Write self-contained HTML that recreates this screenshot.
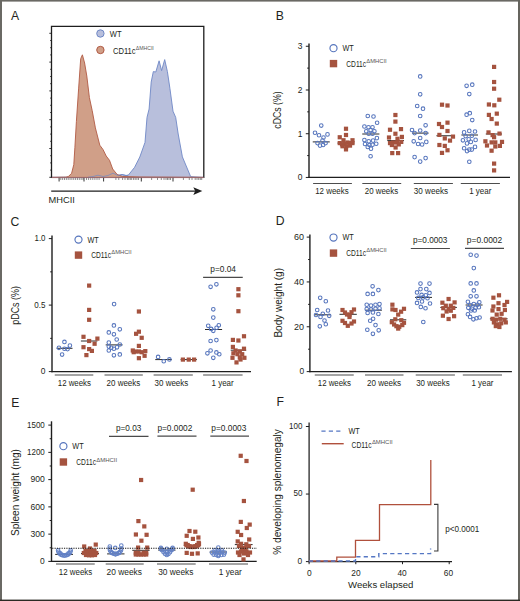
<!DOCTYPE html>
<html><head><meta charset="utf-8"><style>
html,body{margin:0;padding:0;background:#fff;width:520px;height:601px;overflow:hidden}
svg{display:block}
text{font-family:"Liberation Sans",sans-serif}
</style></head><body>
<svg width="520" height="601" viewBox="0 0 520 601">
<rect x="0" y="0" width="520" height="601" fill="#ffffff"/>
<rect x="0" y="0" width="520" height="1.6" fill="#6a6964"/>
<rect x="0" y="0" width="2" height="601" fill="#6a6964"/>
<rect x="518" y="0" width="2" height="601" fill="#65645e"/>
<rect x="0" y="599.6" width="520" height="1.4" fill="#2b2a24"/>
<text x="11.00" y="19.90" font-size="12.2" text-anchor="start" fill="#231f20" stroke="#231f20" stroke-width="0.0" >A</text>
<text x="275.70" y="20.00" font-size="12.2" text-anchor="start" fill="#231f20" stroke="#231f20" stroke-width="0.0" >B</text>
<text x="10.50" y="225.70" font-size="12.2" text-anchor="start" fill="#231f20" stroke="#231f20" stroke-width="0.0" >C</text>
<text x="275.80" y="225.40" font-size="12.2" text-anchor="start" fill="#231f20" stroke="#231f20" stroke-width="0.0" >D</text>
<text x="11.30" y="406.90" font-size="12.2" text-anchor="start" fill="#231f20" stroke="#231f20" stroke-width="0.0" >E</text>
<text x="276.50" y="406.40" font-size="12.2" text-anchor="start" fill="#231f20" stroke="#231f20" stroke-width="0.0" >F</text>
<line x1="309.00" y1="43.60" x2="309.00" y2="178.05" stroke="#1e1e1e" stroke-width="1.4" />
<line x1="308.40" y1="177.45" x2="510.00" y2="177.45" stroke="#1e1e1e" stroke-width="1.25" />
<line x1="305.80" y1="177.45" x2="309.00" y2="177.45" stroke="#1e1e1e" stroke-width="1.0" />
<line x1="305.80" y1="133.72" x2="309.00" y2="133.72" stroke="#1e1e1e" stroke-width="1.0" />
<line x1="305.80" y1="89.99" x2="309.00" y2="89.99" stroke="#1e1e1e" stroke-width="1.0" />
<line x1="305.80" y1="46.26" x2="309.00" y2="46.26" stroke="#1e1e1e" stroke-width="1.0" />
<line x1="307.20" y1="155.58" x2="309.00" y2="155.58" stroke="#1e1e1e" stroke-width="1.0" />
<line x1="307.20" y1="111.85" x2="309.00" y2="111.85" stroke="#1e1e1e" stroke-width="1.0" />
<line x1="307.20" y1="68.12" x2="309.00" y2="68.12" stroke="#1e1e1e" stroke-width="1.0" />
<text x="302.40" y="180.25" font-size="9.2" text-anchor="end" fill="#231f20" stroke="#231f20" stroke-width="0.0" textLength="4.70" lengthAdjust="spacingAndGlyphs" >0</text>
<text x="302.40" y="136.52" font-size="9.2" text-anchor="end" fill="#231f20" stroke="#231f20" stroke-width="0.0" textLength="4.70" lengthAdjust="spacingAndGlyphs" >1</text>
<text x="302.40" y="92.79" font-size="9.2" text-anchor="end" fill="#231f20" stroke="#231f20" stroke-width="0.0" textLength="4.70" lengthAdjust="spacingAndGlyphs" >2</text>
<text x="302.40" y="49.06" font-size="9.2" text-anchor="end" fill="#231f20" stroke="#231f20" stroke-width="0.0" textLength="4.70" lengthAdjust="spacingAndGlyphs" >3</text>
<text transform="translate(280.9,110) rotate(-90)" font-size="10.4" text-anchor="middle" stroke="#231f20" stroke-width="0" fill="#231f20" textLength="37.4" lengthAdjust="spacingAndGlyphs">cDCs (%)</text>
<circle cx="333.50" cy="48.20" r="3.55" fill="none" stroke="#5675bd" stroke-width="1.15"/>
<text x="342.50" y="51.00" font-size="9.0" text-anchor="start" fill="#231f20" stroke="#231f20" stroke-width="0.0" textLength="11.30" lengthAdjust="spacingAndGlyphs" >WT</text>
<rect x="329.80" y="59.90" width="7.4" height="7.4" fill="#a5533f"/>
<text x="346.30" y="66.60" font-size="9.0" text-anchor="start" fill="#231f20" stroke="#231f20" stroke-width="0.0" textLength="19.80" lengthAdjust="spacingAndGlyphs" >CD11c</text>
<text x="366.30" y="63.30" font-size="5.6" fill="#555" textLength="20.40" lengthAdjust="spacingAndGlyphs">&#916;MHCII</text>
<line x1="313.10" y1="183.45" x2="351.90" y2="183.45" stroke="#4d4d4d" stroke-width="1.1" />
<line x1="362.30" y1="183.45" x2="401.20" y2="183.45" stroke="#4d4d4d" stroke-width="1.1" />
<line x1="413.80" y1="183.45" x2="452.90" y2="183.45" stroke="#4d4d4d" stroke-width="1.1" />
<line x1="460.80" y1="183.45" x2="499.90" y2="183.45" stroke="#4d4d4d" stroke-width="1.1" />
<text x="315.20" y="193.75" font-size="9.2" text-anchor="start" fill="#231f20" stroke="#231f20" stroke-width="0.0" textLength="33.50" lengthAdjust="spacingAndGlyphs" >12 weeks</text>
<text x="364.75" y="193.75" font-size="9.2" text-anchor="start" fill="#231f20" stroke="#231f20" stroke-width="0.0" textLength="33.35" lengthAdjust="spacingAndGlyphs" >20 weeks</text>
<text x="413.80" y="193.75" font-size="9.2" text-anchor="start" fill="#231f20" stroke="#231f20" stroke-width="0.0" textLength="34.20" lengthAdjust="spacingAndGlyphs" >30 weeks</text>
<text x="469.20" y="193.75" font-size="9.2" text-anchor="start" fill="#231f20" stroke="#231f20" stroke-width="0.0" textLength="22.20" lengthAdjust="spacingAndGlyphs" >1 year</text>
<line x1="312.75" y1="141.90" x2="329.75" y2="141.90" stroke="#2a2a2a" stroke-width="1.0" />
<line x1="337.50" y1="143.10" x2="354.40" y2="143.10" stroke="#2a2a2a" stroke-width="1.0" />
<line x1="362.25" y1="134.00" x2="379.40" y2="134.00" stroke="#2a2a2a" stroke-width="1.0" />
<line x1="387.25" y1="140.60" x2="404.00" y2="140.60" stroke="#2a2a2a" stroke-width="1.0" />
<line x1="412.00" y1="133.10" x2="428.60" y2="133.10" stroke="#2a2a2a" stroke-width="1.0" />
<line x1="436.40" y1="135.75" x2="451.30" y2="135.75" stroke="#2a2a2a" stroke-width="1.0" />
<line x1="461.40" y1="135.00" x2="478.00" y2="135.00" stroke="#2a2a2a" stroke-width="1.0" />
<line x1="485.80" y1="134.00" x2="502.00" y2="134.00" stroke="#2a2a2a" stroke-width="1.0" />
<circle cx="321.25" cy="125.60" r="1.8" fill="none" stroke="#5675bd" stroke-width="1.05"/>
<circle cx="315.00" cy="132.75" r="1.8" fill="none" stroke="#5675bd" stroke-width="1.05"/>
<circle cx="319.00" cy="135.25" r="1.8" fill="none" stroke="#5675bd" stroke-width="1.05"/>
<circle cx="327.50" cy="134.40" r="1.8" fill="none" stroke="#5675bd" stroke-width="1.05"/>
<circle cx="323.50" cy="137.50" r="1.8" fill="none" stroke="#5675bd" stroke-width="1.05"/>
<circle cx="317.50" cy="143.10" r="1.8" fill="none" stroke="#5675bd" stroke-width="1.05"/>
<circle cx="320.00" cy="145.60" r="1.8" fill="none" stroke="#5675bd" stroke-width="1.05"/>
<circle cx="323.10" cy="145.00" r="1.8" fill="none" stroke="#5675bd" stroke-width="1.05"/>
<circle cx="325.60" cy="143.10" r="1.8" fill="none" stroke="#5675bd" stroke-width="1.05"/>
<circle cx="322.50" cy="140.60" r="1.8" fill="none" stroke="#5675bd" stroke-width="1.05"/>
<circle cx="367.75" cy="116.00" r="1.8" fill="none" stroke="#5675bd" stroke-width="1.05"/>
<circle cx="373.50" cy="116.50" r="1.8" fill="none" stroke="#5675bd" stroke-width="1.05"/>
<circle cx="377.10" cy="122.75" r="1.8" fill="none" stroke="#5675bd" stroke-width="1.05"/>
<circle cx="364.40" cy="126.50" r="1.8" fill="none" stroke="#5675bd" stroke-width="1.05"/>
<circle cx="368.50" cy="127.25" r="1.8" fill="none" stroke="#5675bd" stroke-width="1.05"/>
<circle cx="372.50" cy="127.25" r="1.8" fill="none" stroke="#5675bd" stroke-width="1.05"/>
<circle cx="366.25" cy="131.25" r="1.8" fill="none" stroke="#5675bd" stroke-width="1.05"/>
<circle cx="370.60" cy="130.00" r="1.8" fill="none" stroke="#5675bd" stroke-width="1.05"/>
<circle cx="374.40" cy="131.25" r="1.8" fill="none" stroke="#5675bd" stroke-width="1.05"/>
<circle cx="368.75" cy="133.75" r="1.8" fill="none" stroke="#5675bd" stroke-width="1.05"/>
<circle cx="372.50" cy="133.75" r="1.8" fill="none" stroke="#5675bd" stroke-width="1.05"/>
<circle cx="376.90" cy="138.10" r="1.8" fill="none" stroke="#5675bd" stroke-width="1.05"/>
<circle cx="364.40" cy="140.00" r="1.8" fill="none" stroke="#5675bd" stroke-width="1.05"/>
<circle cx="368.75" cy="141.25" r="1.8" fill="none" stroke="#5675bd" stroke-width="1.05"/>
<circle cx="373.10" cy="140.60" r="1.8" fill="none" stroke="#5675bd" stroke-width="1.05"/>
<circle cx="365.00" cy="144.00" r="1.8" fill="none" stroke="#5675bd" stroke-width="1.05"/>
<circle cx="369.40" cy="145.00" r="1.8" fill="none" stroke="#5675bd" stroke-width="1.05"/>
<circle cx="376.25" cy="143.75" r="1.8" fill="none" stroke="#5675bd" stroke-width="1.05"/>
<circle cx="372.50" cy="144.75" r="1.8" fill="none" stroke="#5675bd" stroke-width="1.05"/>
<circle cx="367.75" cy="146.90" r="1.8" fill="none" stroke="#5675bd" stroke-width="1.05"/>
<circle cx="371.00" cy="148.75" r="1.8" fill="none" stroke="#5675bd" stroke-width="1.05"/>
<circle cx="370.60" cy="156.25" r="1.8" fill="none" stroke="#5675bd" stroke-width="1.05"/>
<circle cx="420.20" cy="76.40" r="1.8" fill="none" stroke="#5675bd" stroke-width="1.05"/>
<circle cx="420.20" cy="94.35" r="1.8" fill="none" stroke="#5675bd" stroke-width="1.05"/>
<circle cx="417.20" cy="106.00" r="1.8" fill="none" stroke="#5675bd" stroke-width="1.05"/>
<circle cx="423.00" cy="108.70" r="1.8" fill="none" stroke="#5675bd" stroke-width="1.05"/>
<circle cx="420.20" cy="116.00" r="1.8" fill="none" stroke="#5675bd" stroke-width="1.05"/>
<circle cx="425.60" cy="125.30" r="1.8" fill="none" stroke="#5675bd" stroke-width="1.05"/>
<circle cx="412.00" cy="130.00" r="1.8" fill="none" stroke="#5675bd" stroke-width="1.05"/>
<circle cx="420.20" cy="130.50" r="1.8" fill="none" stroke="#5675bd" stroke-width="1.05"/>
<circle cx="425.60" cy="133.10" r="1.8" fill="none" stroke="#5675bd" stroke-width="1.05"/>
<circle cx="414.60" cy="133.10" r="1.8" fill="none" stroke="#5675bd" stroke-width="1.05"/>
<circle cx="420.20" cy="138.00" r="1.8" fill="none" stroke="#5675bd" stroke-width="1.05"/>
<circle cx="413.70" cy="141.30" r="1.8" fill="none" stroke="#5675bd" stroke-width="1.05"/>
<circle cx="418.10" cy="144.00" r="1.8" fill="none" stroke="#5675bd" stroke-width="1.05"/>
<circle cx="422.10" cy="144.50" r="1.8" fill="none" stroke="#5675bd" stroke-width="1.05"/>
<circle cx="426.30" cy="141.90" r="1.8" fill="none" stroke="#5675bd" stroke-width="1.05"/>
<circle cx="414.60" cy="157.10" r="1.8" fill="none" stroke="#5675bd" stroke-width="1.05"/>
<circle cx="420.20" cy="161.60" r="1.8" fill="none" stroke="#5675bd" stroke-width="1.05"/>
<circle cx="425.60" cy="158.10" r="1.8" fill="none" stroke="#5675bd" stroke-width="1.05"/>
<circle cx="466.60" cy="85.80" r="1.8" fill="none" stroke="#5675bd" stroke-width="1.05"/>
<circle cx="472.25" cy="84.70" r="1.8" fill="none" stroke="#5675bd" stroke-width="1.05"/>
<circle cx="469.30" cy="94.10" r="1.8" fill="none" stroke="#5675bd" stroke-width="1.05"/>
<circle cx="466.60" cy="114.70" r="1.8" fill="none" stroke="#5675bd" stroke-width="1.05"/>
<circle cx="469.80" cy="113.20" r="1.8" fill="none" stroke="#5675bd" stroke-width="1.05"/>
<circle cx="472.25" cy="120.10" r="1.8" fill="none" stroke="#5675bd" stroke-width="1.05"/>
<circle cx="464.10" cy="132.40" r="1.8" fill="none" stroke="#5675bd" stroke-width="1.05"/>
<circle cx="469.30" cy="130.90" r="1.8" fill="none" stroke="#5675bd" stroke-width="1.05"/>
<circle cx="475.00" cy="131.50" r="1.8" fill="none" stroke="#5675bd" stroke-width="1.05"/>
<circle cx="465.60" cy="136.10" r="1.8" fill="none" stroke="#5675bd" stroke-width="1.05"/>
<circle cx="471.80" cy="135.70" r="1.8" fill="none" stroke="#5675bd" stroke-width="1.05"/>
<circle cx="462.90" cy="140.30" r="1.8" fill="none" stroke="#5675bd" stroke-width="1.05"/>
<circle cx="468.70" cy="139.20" r="1.8" fill="none" stroke="#5675bd" stroke-width="1.05"/>
<circle cx="475.60" cy="139.90" r="1.8" fill="none" stroke="#5675bd" stroke-width="1.05"/>
<circle cx="467.00" cy="143.40" r="1.8" fill="none" stroke="#5675bd" stroke-width="1.05"/>
<circle cx="470.80" cy="141.90" r="1.8" fill="none" stroke="#5675bd" stroke-width="1.05"/>
<circle cx="464.10" cy="148.20" r="1.8" fill="none" stroke="#5675bd" stroke-width="1.05"/>
<circle cx="469.30" cy="149.60" r="1.8" fill="none" stroke="#5675bd" stroke-width="1.05"/>
<circle cx="475.00" cy="146.90" r="1.8" fill="none" stroke="#5675bd" stroke-width="1.05"/>
<circle cx="467.00" cy="151.10" r="1.8" fill="none" stroke="#5675bd" stroke-width="1.05"/>
<circle cx="471.80" cy="149.60" r="1.8" fill="none" stroke="#5675bd" stroke-width="1.05"/>
<circle cx="469.30" cy="161.70" r="1.8" fill="none" stroke="#5675bd" stroke-width="1.05"/>
<rect x="343.90" y="126.65" width="4.2" height="4.2" fill="#a5533f"/>
<rect x="343.90" y="132.90" width="4.2" height="4.2" fill="#a5533f"/>
<rect x="337.65" y="135.15" width="4.2" height="4.2" fill="#a5533f"/>
<rect x="341.40" y="138.15" width="4.2" height="4.2" fill="#a5533f"/>
<rect x="350.40" y="138.15" width="4.2" height="4.2" fill="#a5533f"/>
<rect x="337.65" y="141.00" width="4.2" height="4.2" fill="#a5533f"/>
<rect x="339.90" y="142.30" width="4.2" height="4.2" fill="#a5533f"/>
<rect x="342.40" y="141.70" width="4.2" height="4.2" fill="#a5533f"/>
<rect x="345.40" y="140.40" width="4.2" height="4.2" fill="#a5533f"/>
<rect x="347.90" y="141.00" width="4.2" height="4.2" fill="#a5533f"/>
<rect x="350.40" y="141.00" width="4.2" height="4.2" fill="#a5533f"/>
<rect x="340.40" y="144.15" width="4.2" height="4.2" fill="#a5533f"/>
<rect x="344.15" y="144.15" width="4.2" height="4.2" fill="#a5533f"/>
<rect x="347.90" y="143.50" width="4.2" height="4.2" fill="#a5533f"/>
<rect x="343.90" y="147.30" width="4.2" height="4.2" fill="#a5533f"/>
<rect x="393.30" y="112.90" width="4.2" height="4.2" fill="#a5533f"/>
<rect x="393.30" y="119.50" width="4.2" height="4.2" fill="#a5533f"/>
<rect x="387.90" y="127.65" width="4.2" height="4.2" fill="#a5533f"/>
<rect x="398.90" y="127.00" width="4.2" height="4.2" fill="#a5533f"/>
<rect x="393.30" y="131.65" width="4.2" height="4.2" fill="#a5533f"/>
<rect x="386.90" y="135.40" width="4.2" height="4.2" fill="#a5533f"/>
<rect x="395.40" y="136.65" width="4.2" height="4.2" fill="#a5533f"/>
<rect x="399.80" y="134.80" width="4.2" height="4.2" fill="#a5533f"/>
<rect x="387.90" y="141.00" width="4.2" height="4.2" fill="#a5533f"/>
<rect x="391.00" y="140.40" width="4.2" height="4.2" fill="#a5533f"/>
<rect x="394.80" y="140.40" width="4.2" height="4.2" fill="#a5533f"/>
<rect x="399.15" y="139.80" width="4.2" height="4.2" fill="#a5533f"/>
<rect x="389.80" y="142.90" width="4.2" height="4.2" fill="#a5533f"/>
<rect x="396.65" y="142.30" width="4.2" height="4.2" fill="#a5533f"/>
<rect x="393.50" y="145.40" width="4.2" height="4.2" fill="#a5533f"/>
<rect x="390.15" y="151.00" width="4.2" height="4.2" fill="#a5533f"/>
<rect x="396.00" y="151.00" width="4.2" height="4.2" fill="#a5533f"/>
<rect x="439.90" y="102.60" width="4.2" height="4.2" fill="#a5533f"/>
<rect x="445.40" y="103.40" width="4.2" height="4.2" fill="#a5533f"/>
<rect x="436.90" y="121.90" width="4.2" height="4.2" fill="#a5533f"/>
<rect x="445.40" y="120.55" width="4.2" height="4.2" fill="#a5533f"/>
<rect x="439.90" y="124.90" width="4.2" height="4.2" fill="#a5533f"/>
<rect x="445.40" y="128.90" width="4.2" height="4.2" fill="#a5533f"/>
<rect x="437.30" y="132.80" width="4.2" height="4.2" fill="#a5533f"/>
<rect x="442.70" y="136.30" width="4.2" height="4.2" fill="#a5533f"/>
<rect x="450.90" y="134.50" width="4.2" height="4.2" fill="#a5533f"/>
<rect x="447.90" y="138.50" width="4.2" height="4.2" fill="#a5533f"/>
<rect x="437.30" y="142.90" width="4.2" height="4.2" fill="#a5533f"/>
<rect x="442.70" y="143.80" width="4.2" height="4.2" fill="#a5533f"/>
<rect x="445.40" y="148.15" width="4.2" height="4.2" fill="#a5533f"/>
<rect x="439.90" y="150.80" width="4.2" height="4.2" fill="#a5533f"/>
<rect x="492.00" y="64.80" width="4.2" height="4.2" fill="#a5533f"/>
<rect x="492.00" y="79.90" width="4.2" height="4.2" fill="#a5533f"/>
<rect x="492.00" y="86.60" width="4.2" height="4.2" fill="#a5533f"/>
<rect x="497.20" y="97.60" width="4.2" height="4.2" fill="#a5533f"/>
<rect x="486.80" y="102.40" width="4.2" height="4.2" fill="#a5533f"/>
<rect x="492.20" y="103.20" width="4.2" height="4.2" fill="#a5533f"/>
<rect x="486.80" y="112.80" width="4.2" height="4.2" fill="#a5533f"/>
<rect x="494.70" y="111.55" width="4.2" height="4.2" fill="#a5533f"/>
<rect x="489.50" y="116.90" width="4.2" height="4.2" fill="#a5533f"/>
<rect x="494.70" y="121.50" width="4.2" height="4.2" fill="#a5533f"/>
<rect x="486.40" y="130.30" width="4.2" height="4.2" fill="#a5533f"/>
<rect x="490.50" y="133.00" width="4.2" height="4.2" fill="#a5533f"/>
<rect x="497.40" y="131.50" width="4.2" height="4.2" fill="#a5533f"/>
<rect x="483.30" y="139.20" width="4.2" height="4.2" fill="#a5533f"/>
<rect x="489.50" y="140.30" width="4.2" height="4.2" fill="#a5533f"/>
<rect x="493.20" y="140.30" width="4.2" height="4.2" fill="#a5533f"/>
<rect x="499.90" y="139.80" width="4.2" height="4.2" fill="#a5533f"/>
<rect x="484.90" y="143.40" width="4.2" height="4.2" fill="#a5533f"/>
<rect x="493.20" y="144.40" width="4.2" height="4.2" fill="#a5533f"/>
<rect x="497.80" y="143.80" width="4.2" height="4.2" fill="#a5533f"/>
<rect x="489.50" y="148.60" width="4.2" height="4.2" fill="#a5533f"/>
<rect x="492.00" y="135.10" width="4.2" height="4.2" fill="#a5533f"/>
<rect x="492.00" y="161.50" width="4.2" height="4.2" fill="#a5533f"/>
<rect x="492.00" y="168.30" width="4.2" height="4.2" fill="#a5533f"/>
<line x1="52.00" y1="235.60" x2="52.00" y2="372.20" stroke="#1e1e1e" stroke-width="1.4" />
<line x1="51.40" y1="371.60" x2="251.00" y2="371.60" stroke="#1e1e1e" stroke-width="1.25" />
<line x1="48.80" y1="371.60" x2="52.00" y2="371.60" stroke="#1e1e1e" stroke-width="1.0" />
<line x1="48.80" y1="305.10" x2="52.00" y2="305.10" stroke="#1e1e1e" stroke-width="1.0" />
<line x1="48.80" y1="238.60" x2="52.00" y2="238.60" stroke="#1e1e1e" stroke-width="1.0" />
<line x1="50.20" y1="338.35" x2="52.00" y2="338.35" stroke="#1e1e1e" stroke-width="1.0" />
<line x1="50.20" y1="271.85" x2="52.00" y2="271.85" stroke="#1e1e1e" stroke-width="1.0" />
<text x="45.50" y="241.40" font-size="9.2" text-anchor="end" fill="#231f20" stroke="#231f20" stroke-width="0.0" textLength="11.00" lengthAdjust="spacingAndGlyphs" >1.0</text>
<text x="45.50" y="307.90" font-size="9.2" text-anchor="end" fill="#231f20" stroke="#231f20" stroke-width="0.0" textLength="11.20" lengthAdjust="spacingAndGlyphs" >0.5</text>
<text x="45.50" y="374.40" font-size="9.2" text-anchor="end" fill="#231f20" stroke="#231f20" stroke-width="0.0" textLength="4.70" lengthAdjust="spacingAndGlyphs" >0</text>
<text transform="translate(18.8,305.4) rotate(-90)" font-size="10.4" text-anchor="middle" stroke="#231f20" stroke-width="0" fill="#231f20" textLength="38.7" lengthAdjust="spacingAndGlyphs">pDCs (%)</text>
<circle cx="78.50" cy="239.60" r="3.55" fill="none" stroke="#5675bd" stroke-width="1.15"/>
<text x="87.50" y="242.50" font-size="9.0" text-anchor="start" fill="#231f20" stroke="#231f20" stroke-width="0.0" textLength="11.30" lengthAdjust="spacingAndGlyphs" >WT</text>
<rect x="74.80" y="251.40" width="7.4" height="7.4" fill="#a5533f"/>
<text x="91.25" y="257.75" font-size="9.0" text-anchor="start" fill="#231f20" stroke="#231f20" stroke-width="0.0" textLength="19.80" lengthAdjust="spacingAndGlyphs" >CD11c</text>
<text x="111.25" y="254.45" font-size="5.6" fill="#555" textLength="20.35" lengthAdjust="spacingAndGlyphs">&#916;MHCII</text>
<line x1="54.75" y1="375.00" x2="93.30" y2="375.00" stroke="#4d4d4d" stroke-width="1.1" />
<line x1="104.50" y1="375.00" x2="142.80" y2="375.00" stroke="#4d4d4d" stroke-width="1.1" />
<line x1="153.60" y1="375.00" x2="192.80" y2="375.00" stroke="#4d4d4d" stroke-width="1.1" />
<line x1="203.10" y1="375.00" x2="242.60" y2="375.00" stroke="#4d4d4d" stroke-width="1.1" />
<text x="57.75" y="385.60" font-size="9.2" text-anchor="start" fill="#231f20" stroke="#231f20" stroke-width="0.0" textLength="33.25" lengthAdjust="spacingAndGlyphs" >12 weeks</text>
<text x="106.60" y="385.60" font-size="9.2" text-anchor="start" fill="#231f20" stroke="#231f20" stroke-width="0.0" textLength="33.70" lengthAdjust="spacingAndGlyphs" >20 weeks</text>
<text x="154.60" y="385.60" font-size="9.2" text-anchor="start" fill="#231f20" stroke="#231f20" stroke-width="0.0" textLength="33.70" lengthAdjust="spacingAndGlyphs" >30 weeks</text>
<text x="211.50" y="385.60" font-size="9.2" text-anchor="start" fill="#231f20" stroke="#231f20" stroke-width="0.0" textLength="22.20" lengthAdjust="spacingAndGlyphs" >1 year</text>
<text x="210.25" y="271.90" font-size="8.8" text-anchor="start" fill="#231f20" stroke="#231f20" stroke-width="0.0" textLength="25.75" lengthAdjust="spacingAndGlyphs" >p=0.04</text>
<line x1="203.10" y1="277.40" x2="242.75" y2="277.40" stroke="#4a4a4a" stroke-width="1.2" />
<line x1="56.60" y1="348.30" x2="72.50" y2="348.30" stroke="#2a2a2a" stroke-width="1.0" />
<line x1="80.90" y1="341.00" x2="97.40" y2="341.00" stroke="#2a2a2a" stroke-width="1.0" />
<line x1="105.70" y1="344.90" x2="122.60" y2="344.90" stroke="#2a2a2a" stroke-width="1.0" />
<line x1="131.10" y1="351.50" x2="146.70" y2="351.50" stroke="#2a2a2a" stroke-width="1.0" />
<line x1="155.25" y1="359.60" x2="171.90" y2="359.60" stroke="#2a2a2a" stroke-width="1.0" />
<line x1="180.60" y1="359.60" x2="196.90" y2="359.60" stroke="#2a2a2a" stroke-width="1.0" />
<line x1="205.00" y1="329.50" x2="222.10" y2="329.50" stroke="#2a2a2a" stroke-width="1.0" />
<line x1="230.70" y1="350.20" x2="246.20" y2="350.20" stroke="#2a2a2a" stroke-width="1.0" />
<circle cx="64.45" cy="341.90" r="1.8" fill="none" stroke="#5675bd" stroke-width="1.05"/>
<circle cx="58.95" cy="347.80" r="1.8" fill="none" stroke="#5675bd" stroke-width="1.05"/>
<circle cx="69.90" cy="345.60" r="1.8" fill="none" stroke="#5675bd" stroke-width="1.05"/>
<circle cx="64.45" cy="348.70" r="1.8" fill="none" stroke="#5675bd" stroke-width="1.05"/>
<circle cx="67.55" cy="349.10" r="1.8" fill="none" stroke="#5675bd" stroke-width="1.05"/>
<circle cx="62.10" cy="354.55" r="1.8" fill="none" stroke="#5675bd" stroke-width="1.05"/>
<circle cx="114.10" cy="304.10" r="1.8" fill="none" stroke="#5675bd" stroke-width="1.05"/>
<circle cx="113.90" cy="325.40" r="1.8" fill="none" stroke="#5675bd" stroke-width="1.05"/>
<circle cx="119.80" cy="329.30" r="1.8" fill="none" stroke="#5675bd" stroke-width="1.05"/>
<circle cx="108.80" cy="332.40" r="1.8" fill="none" stroke="#5675bd" stroke-width="1.05"/>
<circle cx="113.90" cy="334.30" r="1.8" fill="none" stroke="#5675bd" stroke-width="1.05"/>
<circle cx="116.70" cy="339.50" r="1.8" fill="none" stroke="#5675bd" stroke-width="1.05"/>
<circle cx="108.80" cy="342.60" r="1.8" fill="none" stroke="#5675bd" stroke-width="1.05"/>
<circle cx="119.80" cy="344.50" r="1.8" fill="none" stroke="#5675bd" stroke-width="1.05"/>
<circle cx="108.80" cy="346.60" r="1.8" fill="none" stroke="#5675bd" stroke-width="1.05"/>
<circle cx="111.30" cy="347.70" r="1.8" fill="none" stroke="#5675bd" stroke-width="1.05"/>
<circle cx="113.90" cy="348.70" r="1.8" fill="none" stroke="#5675bd" stroke-width="1.05"/>
<circle cx="117.00" cy="347.30" r="1.8" fill="none" stroke="#5675bd" stroke-width="1.05"/>
<circle cx="108.80" cy="350.50" r="1.8" fill="none" stroke="#5675bd" stroke-width="1.05"/>
<circle cx="113.90" cy="355.30" r="1.8" fill="none" stroke="#5675bd" stroke-width="1.05"/>
<circle cx="119.80" cy="354.40" r="1.8" fill="none" stroke="#5675bd" stroke-width="1.05"/>
<circle cx="158.10" cy="356.90" r="1.8" fill="none" stroke="#5675bd" stroke-width="1.05"/>
<circle cx="163.75" cy="361.25" r="1.8" fill="none" stroke="#5675bd" stroke-width="1.05"/>
<circle cx="169.40" cy="359.40" r="1.8" fill="none" stroke="#5675bd" stroke-width="1.05"/>
<circle cx="210.60" cy="286.80" r="1.8" fill="none" stroke="#5675bd" stroke-width="1.05"/>
<circle cx="216.40" cy="284.30" r="1.8" fill="none" stroke="#5675bd" stroke-width="1.05"/>
<circle cx="213.30" cy="309.30" r="1.8" fill="none" stroke="#5675bd" stroke-width="1.05"/>
<circle cx="213.30" cy="317.60" r="1.8" fill="none" stroke="#5675bd" stroke-width="1.05"/>
<circle cx="208.20" cy="325.80" r="1.8" fill="none" stroke="#5675bd" stroke-width="1.05"/>
<circle cx="218.80" cy="325.30" r="1.8" fill="none" stroke="#5675bd" stroke-width="1.05"/>
<circle cx="211.10" cy="328.90" r="1.8" fill="none" stroke="#5675bd" stroke-width="1.05"/>
<circle cx="216.60" cy="327.70" r="1.8" fill="none" stroke="#5675bd" stroke-width="1.05"/>
<circle cx="213.30" cy="330.80" r="1.8" fill="none" stroke="#5675bd" stroke-width="1.05"/>
<circle cx="210.60" cy="341.00" r="1.8" fill="none" stroke="#5675bd" stroke-width="1.05"/>
<circle cx="216.40" cy="340.10" r="1.8" fill="none" stroke="#5675bd" stroke-width="1.05"/>
<circle cx="210.60" cy="350.50" r="1.8" fill="none" stroke="#5675bd" stroke-width="1.05"/>
<circle cx="207.40" cy="353.30" r="1.8" fill="none" stroke="#5675bd" stroke-width="1.05"/>
<circle cx="216.40" cy="352.40" r="1.8" fill="none" stroke="#5675bd" stroke-width="1.05"/>
<circle cx="219.30" cy="354.20" r="1.8" fill="none" stroke="#5675bd" stroke-width="1.05"/>
<circle cx="213.30" cy="357.80" r="1.8" fill="none" stroke="#5675bd" stroke-width="1.05"/>
<rect x="87.05" y="283.50" width="4.2" height="4.2" fill="#a5533f"/>
<rect x="87.05" y="307.80" width="4.2" height="4.2" fill="#a5533f"/>
<rect x="87.05" y="317.70" width="4.2" height="4.2" fill="#a5533f"/>
<rect x="81.40" y="334.70" width="4.2" height="4.2" fill="#a5533f"/>
<rect x="95.30" y="336.50" width="4.2" height="4.2" fill="#a5533f"/>
<rect x="87.05" y="338.90" width="4.2" height="4.2" fill="#a5533f"/>
<rect x="92.50" y="341.65" width="4.2" height="4.2" fill="#a5533f"/>
<rect x="81.40" y="345.10" width="4.2" height="4.2" fill="#a5533f"/>
<rect x="87.05" y="347.00" width="4.2" height="4.2" fill="#a5533f"/>
<rect x="89.80" y="348.80" width="4.2" height="4.2" fill="#a5533f"/>
<rect x="84.30" y="353.00" width="4.2" height="4.2" fill="#a5533f"/>
<rect x="136.80" y="309.40" width="4.2" height="4.2" fill="#a5533f"/>
<rect x="136.80" y="329.60" width="4.2" height="4.2" fill="#a5533f"/>
<rect x="134.00" y="331.70" width="4.2" height="4.2" fill="#a5533f"/>
<rect x="139.60" y="335.70" width="4.2" height="4.2" fill="#a5533f"/>
<rect x="136.80" y="343.80" width="4.2" height="4.2" fill="#a5533f"/>
<rect x="130.70" y="348.40" width="4.2" height="4.2" fill="#a5533f"/>
<rect x="133.30" y="349.40" width="4.2" height="4.2" fill="#a5533f"/>
<rect x="136.80" y="349.40" width="4.2" height="4.2" fill="#a5533f"/>
<rect x="139.60" y="350.10" width="4.2" height="4.2" fill="#a5533f"/>
<rect x="143.20" y="349.00" width="4.2" height="4.2" fill="#a5533f"/>
<rect x="142.50" y="353.70" width="4.2" height="4.2" fill="#a5533f"/>
<rect x="136.80" y="356.10" width="4.2" height="4.2" fill="#a5533f"/>
<rect x="131.60" y="350.10" width="4.2" height="4.2" fill="#a5533f"/>
<rect x="180.80" y="357.50" width="4.2" height="4.2" fill="#a5533f"/>
<rect x="186.65" y="357.50" width="4.2" height="4.2" fill="#a5533f"/>
<rect x="192.00" y="357.50" width="4.2" height="4.2" fill="#a5533f"/>
<rect x="236.30" y="287.10" width="4.2" height="4.2" fill="#a5533f"/>
<rect x="236.30" y="293.20" width="4.2" height="4.2" fill="#a5533f"/>
<rect x="236.30" y="309.10" width="4.2" height="4.2" fill="#a5533f"/>
<rect x="241.90" y="334.15" width="4.2" height="4.2" fill="#a5533f"/>
<rect x="230.80" y="337.80" width="4.2" height="4.2" fill="#a5533f"/>
<rect x="236.30" y="338.40" width="4.2" height="4.2" fill="#a5533f"/>
<rect x="230.80" y="344.80" width="4.2" height="4.2" fill="#a5533f"/>
<rect x="241.90" y="346.60" width="4.2" height="4.2" fill="#a5533f"/>
<rect x="233.50" y="348.40" width="4.2" height="4.2" fill="#a5533f"/>
<rect x="237.70" y="349.30" width="4.2" height="4.2" fill="#a5533f"/>
<rect x="231.30" y="351.20" width="4.2" height="4.2" fill="#a5533f"/>
<rect x="235.40" y="352.10" width="4.2" height="4.2" fill="#a5533f"/>
<rect x="240.10" y="352.10" width="4.2" height="4.2" fill="#a5533f"/>
<rect x="230.40" y="355.70" width="4.2" height="4.2" fill="#a5533f"/>
<rect x="237.70" y="355.40" width="4.2" height="4.2" fill="#a5533f"/>
<rect x="242.30" y="355.70" width="4.2" height="4.2" fill="#a5533f"/>
<rect x="234.40" y="360.30" width="4.2" height="4.2" fill="#a5533f"/>
<rect x="238.40" y="357.40" width="4.2" height="4.2" fill="#a5533f"/>
<line x1="309.90" y1="234.40" x2="309.90" y2="372.20" stroke="#1e1e1e" stroke-width="1.4" />
<line x1="309.30" y1="371.60" x2="511.90" y2="371.60" stroke="#1e1e1e" stroke-width="1.25" />
<line x1="306.70" y1="371.60" x2="309.90" y2="371.60" stroke="#1e1e1e" stroke-width="1.0" />
<line x1="306.70" y1="326.77" x2="309.90" y2="326.77" stroke="#1e1e1e" stroke-width="1.0" />
<line x1="306.70" y1="281.94" x2="309.90" y2="281.94" stroke="#1e1e1e" stroke-width="1.0" />
<line x1="306.70" y1="237.11" x2="309.90" y2="237.11" stroke="#1e1e1e" stroke-width="1.0" />
<line x1="308.10" y1="349.19" x2="309.90" y2="349.19" stroke="#1e1e1e" stroke-width="1.0" />
<line x1="308.10" y1="304.36" x2="309.90" y2="304.36" stroke="#1e1e1e" stroke-width="1.0" />
<line x1="308.10" y1="259.53" x2="309.90" y2="259.53" stroke="#1e1e1e" stroke-width="1.0" />
<text x="304.10" y="374.40" font-size="9.2" text-anchor="end" fill="#231f20" stroke="#231f20" stroke-width="0.0" textLength="4.70" lengthAdjust="spacingAndGlyphs" >0</text>
<text x="304.10" y="329.57" font-size="9.2" text-anchor="end" fill="#231f20" stroke="#231f20" stroke-width="0.0" textLength="10.00" lengthAdjust="spacingAndGlyphs" >20</text>
<text x="304.10" y="284.74" font-size="9.2" text-anchor="end" fill="#231f20" stroke="#231f20" stroke-width="0.0" textLength="10.00" lengthAdjust="spacingAndGlyphs" >40</text>
<text x="304.10" y="239.91" font-size="9.2" text-anchor="end" fill="#231f20" stroke="#231f20" stroke-width="0.0" textLength="10.00" lengthAdjust="spacingAndGlyphs" >60</text>
<text transform="translate(281.6,302.8) rotate(-90)" font-size="10.4" text-anchor="middle" stroke="#231f20" stroke-width="0" fill="#231f20" textLength="69.6" lengthAdjust="spacingAndGlyphs">Body weight (g)</text>
<circle cx="333.50" cy="237.50" r="3.55" fill="none" stroke="#5675bd" stroke-width="1.15"/>
<text x="342.50" y="240.25" font-size="9.0" text-anchor="start" fill="#231f20" stroke="#231f20" stroke-width="0.0" textLength="11.30" lengthAdjust="spacingAndGlyphs" >WT</text>
<rect x="329.80" y="249.40" width="7.4" height="7.4" fill="#a5533f"/>
<text x="346.25" y="255.60" font-size="9.0" text-anchor="start" fill="#231f20" stroke="#231f20" stroke-width="0.0" textLength="19.80" lengthAdjust="spacingAndGlyphs" >CD11c</text>
<text x="366.25" y="252.30" font-size="5.6" fill="#555" textLength="20.45" lengthAdjust="spacingAndGlyphs">&#916;MHCII</text>
<line x1="314.75" y1="375.00" x2="353.75" y2="375.00" stroke="#4d4d4d" stroke-width="1.1" />
<line x1="365.00" y1="375.00" x2="403.50" y2="375.00" stroke="#4d4d4d" stroke-width="1.1" />
<line x1="415.70" y1="375.00" x2="454.90" y2="375.00" stroke="#4d4d4d" stroke-width="1.1" />
<line x1="462.80" y1="375.00" x2="502.00" y2="375.00" stroke="#4d4d4d" stroke-width="1.1" />
<text x="317.75" y="385.60" font-size="9.2" text-anchor="start" fill="#231f20" stroke="#231f20" stroke-width="0.0" textLength="33.25" lengthAdjust="spacingAndGlyphs" >12 weeks</text>
<text x="367.00" y="385.60" font-size="9.2" text-anchor="start" fill="#231f20" stroke="#231f20" stroke-width="0.0" textLength="34.00" lengthAdjust="spacingAndGlyphs" >20 weeks</text>
<text x="416.20" y="385.60" font-size="9.2" text-anchor="start" fill="#231f20" stroke="#231f20" stroke-width="0.0" textLength="33.40" lengthAdjust="spacingAndGlyphs" >30 weeks</text>
<text x="471.50" y="385.60" font-size="9.2" text-anchor="start" fill="#231f20" stroke="#231f20" stroke-width="0.0" textLength="22.00" lengthAdjust="spacingAndGlyphs" >1 year</text>
<text x="413.00" y="242.90" font-size="8.8" text-anchor="start" fill="#231f20" stroke="#231f20" stroke-width="0.0" textLength="34.40" lengthAdjust="spacingAndGlyphs" >p=0.0003</text>
<line x1="410.80" y1="248.50" x2="449.90" y2="248.50" stroke="#4a4a4a" stroke-width="1.2" />
<text x="466.80" y="242.90" font-size="8.8" text-anchor="start" fill="#231f20" stroke="#231f20" stroke-width="0.0" textLength="35.40" lengthAdjust="spacingAndGlyphs" >p=0.0002</text>
<line x1="465.00" y1="248.30" x2="504.00" y2="248.30" stroke="#4a4a4a" stroke-width="1.2" />
<line x1="314.50" y1="314.80" x2="331.00" y2="314.80" stroke="#2a2a2a" stroke-width="1.0" />
<line x1="339.50" y1="314.30" x2="356.80" y2="314.30" stroke="#2a2a2a" stroke-width="1.0" />
<line x1="365.20" y1="310.20" x2="381.90" y2="310.20" stroke="#2a2a2a" stroke-width="1.0" />
<line x1="390.00" y1="319.80" x2="406.30" y2="319.80" stroke="#2a2a2a" stroke-width="1.0" />
<line x1="415.00" y1="297.40" x2="432.00" y2="297.40" stroke="#2a2a2a" stroke-width="1.0" />
<line x1="440.30" y1="307.40" x2="456.90" y2="307.40" stroke="#2a2a2a" stroke-width="1.0" />
<line x1="465.60" y1="305.00" x2="482.60" y2="305.00" stroke="#2a2a2a" stroke-width="1.0" />
<line x1="489.90" y1="318.80" x2="507.60" y2="318.80" stroke="#2a2a2a" stroke-width="1.0" />
<circle cx="320.20" cy="297.80" r="1.8" fill="none" stroke="#5675bd" stroke-width="1.05"/>
<circle cx="325.80" cy="301.20" r="1.8" fill="none" stroke="#5675bd" stroke-width="1.05"/>
<circle cx="317.20" cy="310.00" r="1.8" fill="none" stroke="#5675bd" stroke-width="1.05"/>
<circle cx="328.00" cy="310.50" r="1.8" fill="none" stroke="#5675bd" stroke-width="1.05"/>
<circle cx="316.00" cy="315.00" r="1.8" fill="none" stroke="#5675bd" stroke-width="1.05"/>
<circle cx="322.80" cy="313.80" r="1.8" fill="none" stroke="#5675bd" stroke-width="1.05"/>
<circle cx="320.50" cy="317.00" r="1.8" fill="none" stroke="#5675bd" stroke-width="1.05"/>
<circle cx="329.20" cy="315.80" r="1.8" fill="none" stroke="#5675bd" stroke-width="1.05"/>
<circle cx="324.50" cy="320.50" r="1.8" fill="none" stroke="#5675bd" stroke-width="1.05"/>
<circle cx="325.80" cy="324.20" r="1.8" fill="none" stroke="#5675bd" stroke-width="1.05"/>
<circle cx="319.80" cy="326.30" r="1.8" fill="none" stroke="#5675bd" stroke-width="1.05"/>
<circle cx="372.60" cy="286.30" r="1.8" fill="none" stroke="#5675bd" stroke-width="1.05"/>
<circle cx="378.40" cy="290.10" r="1.8" fill="none" stroke="#5675bd" stroke-width="1.05"/>
<circle cx="367.60" cy="293.90" r="1.8" fill="none" stroke="#5675bd" stroke-width="1.05"/>
<circle cx="372.90" cy="293.90" r="1.8" fill="none" stroke="#5675bd" stroke-width="1.05"/>
<circle cx="366.70" cy="304.70" r="1.8" fill="none" stroke="#5675bd" stroke-width="1.05"/>
<circle cx="371.00" cy="305.50" r="1.8" fill="none" stroke="#5675bd" stroke-width="1.05"/>
<circle cx="375.50" cy="304.70" r="1.8" fill="none" stroke="#5675bd" stroke-width="1.05"/>
<circle cx="379.50" cy="304.10" r="1.8" fill="none" stroke="#5675bd" stroke-width="1.05"/>
<circle cx="366.70" cy="309.00" r="1.8" fill="none" stroke="#5675bd" stroke-width="1.05"/>
<circle cx="371.00" cy="309.40" r="1.8" fill="none" stroke="#5675bd" stroke-width="1.05"/>
<circle cx="375.50" cy="308.80" r="1.8" fill="none" stroke="#5675bd" stroke-width="1.05"/>
<circle cx="379.50" cy="308.20" r="1.8" fill="none" stroke="#5675bd" stroke-width="1.05"/>
<circle cx="367.60" cy="312.90" r="1.8" fill="none" stroke="#5675bd" stroke-width="1.05"/>
<circle cx="372.90" cy="312.50" r="1.8" fill="none" stroke="#5675bd" stroke-width="1.05"/>
<circle cx="378.40" cy="314.00" r="1.8" fill="none" stroke="#5675bd" stroke-width="1.05"/>
<circle cx="370.20" cy="320.70" r="1.8" fill="none" stroke="#5675bd" stroke-width="1.05"/>
<circle cx="373.10" cy="318.70" r="1.8" fill="none" stroke="#5675bd" stroke-width="1.05"/>
<circle cx="375.50" cy="325.10" r="1.8" fill="none" stroke="#5675bd" stroke-width="1.05"/>
<circle cx="367.30" cy="329.70" r="1.8" fill="none" stroke="#5675bd" stroke-width="1.05"/>
<circle cx="378.70" cy="330.30" r="1.8" fill="none" stroke="#5675bd" stroke-width="1.05"/>
<circle cx="372.90" cy="333.80" r="1.8" fill="none" stroke="#5675bd" stroke-width="1.05"/>
<circle cx="420.50" cy="283.60" r="1.8" fill="none" stroke="#5675bd" stroke-width="1.05"/>
<circle cx="429.50" cy="283.60" r="1.8" fill="none" stroke="#5675bd" stroke-width="1.05"/>
<circle cx="420.50" cy="289.10" r="1.8" fill="none" stroke="#5675bd" stroke-width="1.05"/>
<circle cx="426.30" cy="289.10" r="1.8" fill="none" stroke="#5675bd" stroke-width="1.05"/>
<circle cx="417.00" cy="292.40" r="1.8" fill="none" stroke="#5675bd" stroke-width="1.05"/>
<circle cx="429.50" cy="292.90" r="1.8" fill="none" stroke="#5675bd" stroke-width="1.05"/>
<circle cx="421.60" cy="294.90" r="1.8" fill="none" stroke="#5675bd" stroke-width="1.05"/>
<circle cx="425.80" cy="295.20" r="1.8" fill="none" stroke="#5675bd" stroke-width="1.05"/>
<circle cx="418.30" cy="297.90" r="1.8" fill="none" stroke="#5675bd" stroke-width="1.05"/>
<circle cx="423.00" cy="297.40" r="1.8" fill="none" stroke="#5675bd" stroke-width="1.05"/>
<circle cx="427.50" cy="298.20" r="1.8" fill="none" stroke="#5675bd" stroke-width="1.05"/>
<circle cx="422.00" cy="301.50" r="1.8" fill="none" stroke="#5675bd" stroke-width="1.05"/>
<circle cx="417.00" cy="302.90" r="1.8" fill="none" stroke="#5675bd" stroke-width="1.05"/>
<circle cx="430.00" cy="303.50" r="1.8" fill="none" stroke="#5675bd" stroke-width="1.05"/>
<circle cx="420.80" cy="306.90" r="1.8" fill="none" stroke="#5675bd" stroke-width="1.05"/>
<circle cx="425.50" cy="308.20" r="1.8" fill="none" stroke="#5675bd" stroke-width="1.05"/>
<circle cx="423.30" cy="322.00" r="1.8" fill="none" stroke="#5675bd" stroke-width="1.05"/>
<circle cx="470.70" cy="254.70" r="1.8" fill="none" stroke="#5675bd" stroke-width="1.05"/>
<circle cx="476.50" cy="255.60" r="1.8" fill="none" stroke="#5675bd" stroke-width="1.05"/>
<circle cx="473.80" cy="268.10" r="1.8" fill="none" stroke="#5675bd" stroke-width="1.05"/>
<circle cx="470.70" cy="283.40" r="1.8" fill="none" stroke="#5675bd" stroke-width="1.05"/>
<circle cx="476.50" cy="283.40" r="1.8" fill="none" stroke="#5675bd" stroke-width="1.05"/>
<circle cx="473.80" cy="290.40" r="1.8" fill="none" stroke="#5675bd" stroke-width="1.05"/>
<circle cx="470.70" cy="296.30" r="1.8" fill="none" stroke="#5675bd" stroke-width="1.05"/>
<circle cx="476.50" cy="296.30" r="1.8" fill="none" stroke="#5675bd" stroke-width="1.05"/>
<circle cx="467.90" cy="301.70" r="1.8" fill="none" stroke="#5675bd" stroke-width="1.05"/>
<circle cx="479.30" cy="302.30" r="1.8" fill="none" stroke="#5675bd" stroke-width="1.05"/>
<circle cx="470.10" cy="305.00" r="1.8" fill="none" stroke="#5675bd" stroke-width="1.05"/>
<circle cx="473.80" cy="304.10" r="1.8" fill="none" stroke="#5675bd" stroke-width="1.05"/>
<circle cx="477.50" cy="304.70" r="1.8" fill="none" stroke="#5675bd" stroke-width="1.05"/>
<circle cx="468.30" cy="307.80" r="1.8" fill="none" stroke="#5675bd" stroke-width="1.05"/>
<circle cx="472.00" cy="308.70" r="1.8" fill="none" stroke="#5675bd" stroke-width="1.05"/>
<circle cx="475.60" cy="307.80" r="1.8" fill="none" stroke="#5675bd" stroke-width="1.05"/>
<circle cx="478.90" cy="307.20" r="1.8" fill="none" stroke="#5675bd" stroke-width="1.05"/>
<circle cx="471.00" cy="310.50" r="1.8" fill="none" stroke="#5675bd" stroke-width="1.05"/>
<circle cx="474.70" cy="310.50" r="1.8" fill="none" stroke="#5675bd" stroke-width="1.05"/>
<circle cx="467.90" cy="314.20" r="1.8" fill="none" stroke="#5675bd" stroke-width="1.05"/>
<circle cx="470.10" cy="316.90" r="1.8" fill="none" stroke="#5675bd" stroke-width="1.05"/>
<circle cx="473.40" cy="319.30" r="1.8" fill="none" stroke="#5675bd" stroke-width="1.05"/>
<circle cx="476.50" cy="318.20" r="1.8" fill="none" stroke="#5675bd" stroke-width="1.05"/>
<circle cx="479.60" cy="317.50" r="1.8" fill="none" stroke="#5675bd" stroke-width="1.05"/>
<rect x="340.40" y="307.90" width="4.2" height="4.2" fill="#a5533f"/>
<rect x="351.90" y="307.40" width="4.2" height="4.2" fill="#a5533f"/>
<rect x="342.90" y="310.40" width="4.2" height="4.2" fill="#a5533f"/>
<rect x="349.40" y="310.10" width="4.2" height="4.2" fill="#a5533f"/>
<rect x="344.90" y="312.40" width="4.2" height="4.2" fill="#a5533f"/>
<rect x="347.40" y="312.70" width="4.2" height="4.2" fill="#a5533f"/>
<rect x="347.40" y="314.90" width="4.2" height="4.2" fill="#a5533f"/>
<rect x="340.40" y="318.70" width="4.2" height="4.2" fill="#a5533f"/>
<rect x="351.90" y="319.40" width="4.2" height="4.2" fill="#a5533f"/>
<rect x="342.90" y="320.90" width="4.2" height="4.2" fill="#a5533f"/>
<rect x="349.40" y="321.40" width="4.2" height="4.2" fill="#a5533f"/>
<rect x="345.70" y="323.70" width="4.2" height="4.2" fill="#a5533f"/>
<rect x="390.30" y="302.60" width="4.2" height="4.2" fill="#a5533f"/>
<rect x="390.30" y="307.30" width="4.2" height="4.2" fill="#a5533f"/>
<rect x="393.40" y="307.90" width="4.2" height="4.2" fill="#a5533f"/>
<rect x="401.90" y="306.70" width="4.2" height="4.2" fill="#a5533f"/>
<rect x="399.00" y="309.60" width="4.2" height="4.2" fill="#a5533f"/>
<rect x="396.10" y="312.50" width="4.2" height="4.2" fill="#a5533f"/>
<rect x="393.20" y="317.20" width="4.2" height="4.2" fill="#a5533f"/>
<rect x="399.20" y="318.10" width="4.2" height="4.2" fill="#a5533f"/>
<rect x="389.70" y="320.10" width="4.2" height="4.2" fill="#a5533f"/>
<rect x="401.90" y="320.70" width="4.2" height="4.2" fill="#a5533f"/>
<rect x="392.00" y="322.40" width="4.2" height="4.2" fill="#a5533f"/>
<rect x="400.20" y="323.00" width="4.2" height="4.2" fill="#a5533f"/>
<rect x="394.30" y="324.10" width="4.2" height="4.2" fill="#a5533f"/>
<rect x="397.20" y="324.70" width="4.2" height="4.2" fill="#a5533f"/>
<rect x="396.10" y="326.50" width="4.2" height="4.2" fill="#a5533f"/>
<rect x="446.50" y="296.90" width="4.2" height="4.2" fill="#a5533f"/>
<rect x="440.30" y="300.60" width="4.2" height="4.2" fill="#a5533f"/>
<rect x="452.50" y="300.30" width="4.2" height="4.2" fill="#a5533f"/>
<rect x="443.70" y="303.60" width="4.2" height="4.2" fill="#a5533f"/>
<rect x="448.70" y="303.60" width="4.2" height="4.2" fill="#a5533f"/>
<rect x="441.20" y="306.10" width="4.2" height="4.2" fill="#a5533f"/>
<rect x="446.50" y="306.90" width="4.2" height="4.2" fill="#a5533f"/>
<rect x="451.20" y="305.80" width="4.2" height="4.2" fill="#a5533f"/>
<rect x="444.50" y="309.40" width="4.2" height="4.2" fill="#a5533f"/>
<rect x="448.70" y="308.60" width="4.2" height="4.2" fill="#a5533f"/>
<rect x="440.80" y="313.60" width="4.2" height="4.2" fill="#a5533f"/>
<rect x="452.00" y="314.10" width="4.2" height="4.2" fill="#a5533f"/>
<rect x="446.50" y="316.90" width="4.2" height="4.2" fill="#a5533f"/>
<rect x="491.30" y="295.60" width="4.2" height="4.2" fill="#a5533f"/>
<rect x="496.90" y="293.20" width="4.2" height="4.2" fill="#a5533f"/>
<rect x="505.00" y="299.80" width="4.2" height="4.2" fill="#a5533f"/>
<rect x="496.40" y="301.10" width="4.2" height="4.2" fill="#a5533f"/>
<rect x="502.40" y="302.90" width="4.2" height="4.2" fill="#a5533f"/>
<rect x="491.30" y="304.40" width="4.2" height="4.2" fill="#a5533f"/>
<rect x="496.40" y="307.00" width="4.2" height="4.2" fill="#a5533f"/>
<rect x="502.80" y="307.90" width="4.2" height="4.2" fill="#a5533f"/>
<rect x="490.40" y="308.40" width="4.2" height="4.2" fill="#a5533f"/>
<rect x="494.60" y="312.50" width="4.2" height="4.2" fill="#a5533f"/>
<rect x="499.50" y="311.70" width="4.2" height="4.2" fill="#a5533f"/>
<rect x="490.40" y="316.70" width="4.2" height="4.2" fill="#a5533f"/>
<rect x="494.00" y="317.60" width="4.2" height="4.2" fill="#a5533f"/>
<rect x="498.20" y="316.70" width="4.2" height="4.2" fill="#a5533f"/>
<rect x="502.40" y="317.60" width="4.2" height="4.2" fill="#a5533f"/>
<rect x="491.80" y="320.30" width="4.2" height="4.2" fill="#a5533f"/>
<rect x="495.10" y="322.20" width="4.2" height="4.2" fill="#a5533f"/>
<rect x="499.10" y="321.20" width="4.2" height="4.2" fill="#a5533f"/>
<rect x="503.70" y="320.30" width="4.2" height="4.2" fill="#a5533f"/>
<rect x="493.70" y="324.00" width="4.2" height="4.2" fill="#a5533f"/>
<rect x="497.30" y="324.90" width="4.2" height="4.2" fill="#a5533f"/>
<line x1="51.50" y1="421.30" x2="51.50" y2="562.00" stroke="#1e1e1e" stroke-width="1.4" />
<line x1="50.90" y1="561.40" x2="256.70" y2="561.40" stroke="#1e1e1e" stroke-width="1.25" />
<line x1="48.30" y1="561.40" x2="51.50" y2="561.40" stroke="#1e1e1e" stroke-width="1.0" />
<line x1="48.30" y1="534.14" x2="51.50" y2="534.14" stroke="#1e1e1e" stroke-width="1.0" />
<line x1="48.30" y1="506.88" x2="51.50" y2="506.88" stroke="#1e1e1e" stroke-width="1.0" />
<line x1="48.30" y1="479.62" x2="51.50" y2="479.62" stroke="#1e1e1e" stroke-width="1.0" />
<line x1="48.30" y1="452.36" x2="51.50" y2="452.36" stroke="#1e1e1e" stroke-width="1.0" />
<line x1="48.30" y1="425.10" x2="51.50" y2="425.10" stroke="#1e1e1e" stroke-width="1.0" />
<line x1="49.70" y1="547.77" x2="51.50" y2="547.77" stroke="#1e1e1e" stroke-width="1.0" />
<line x1="49.70" y1="520.51" x2="51.50" y2="520.51" stroke="#1e1e1e" stroke-width="1.0" />
<line x1="49.70" y1="493.25" x2="51.50" y2="493.25" stroke="#1e1e1e" stroke-width="1.0" />
<line x1="49.70" y1="465.99" x2="51.50" y2="465.99" stroke="#1e1e1e" stroke-width="1.0" />
<line x1="49.70" y1="438.73" x2="51.50" y2="438.73" stroke="#1e1e1e" stroke-width="1.0" />
<text x="44.80" y="564.20" font-size="9.2" text-anchor="end" fill="#231f20" stroke="#231f20" stroke-width="0.0" textLength="4.70" lengthAdjust="spacingAndGlyphs" >0</text>
<text x="44.80" y="536.94" font-size="9.2" text-anchor="end" fill="#231f20" stroke="#231f20" stroke-width="0.0" textLength="14.40" lengthAdjust="spacingAndGlyphs" >300</text>
<text x="44.80" y="509.68" font-size="9.2" text-anchor="end" fill="#231f20" stroke="#231f20" stroke-width="0.0" textLength="14.40" lengthAdjust="spacingAndGlyphs" >600</text>
<text x="44.80" y="482.42" font-size="9.2" text-anchor="end" fill="#231f20" stroke="#231f20" stroke-width="0.0" textLength="14.40" lengthAdjust="spacingAndGlyphs" >900</text>
<text x="44.80" y="455.16" font-size="9.2" text-anchor="end" fill="#231f20" stroke="#231f20" stroke-width="0.0" textLength="17.80" lengthAdjust="spacingAndGlyphs" >1200</text>
<text x="44.80" y="427.90" font-size="9.2" text-anchor="end" fill="#231f20" stroke="#231f20" stroke-width="0.0" textLength="17.80" lengthAdjust="spacingAndGlyphs" >1500</text>
<text transform="translate(19.1,492.6) rotate(-90)" font-size="10.4" text-anchor="middle" stroke="#231f20" stroke-width="0" fill="#231f20" textLength="87" lengthAdjust="spacingAndGlyphs">Spleen weight (mg)</text>
<circle cx="63.40" cy="446.20" r="3.55" fill="none" stroke="#5675bd" stroke-width="1.15"/>
<text x="72.30" y="449.20" font-size="9.0" text-anchor="start" fill="#231f20" stroke="#231f20" stroke-width="0.0" textLength="11.30" lengthAdjust="spacingAndGlyphs" >WT</text>
<rect x="59.70" y="458.30" width="7.4" height="7.4" fill="#a5533f"/>
<text x="76.20" y="465.00" font-size="9.0" text-anchor="start" fill="#231f20" stroke="#231f20" stroke-width="0.0" textLength="19.80" lengthAdjust="spacingAndGlyphs" >CD11c</text>
<text x="96.20" y="461.70" font-size="5.6" fill="#555" textLength="20.90" lengthAdjust="spacingAndGlyphs">&#916;MHCII</text>
<line x1="56.00" y1="564.05" x2="94.75" y2="564.05" stroke="#4d4d4d" stroke-width="1.1" />
<line x1="105.70" y1="564.05" x2="143.70" y2="564.05" stroke="#4d4d4d" stroke-width="1.1" />
<line x1="157.00" y1="564.05" x2="195.70" y2="564.05" stroke="#4d4d4d" stroke-width="1.1" />
<line x1="209.00" y1="564.05" x2="248.00" y2="564.05" stroke="#4d4d4d" stroke-width="1.1" />
<text x="58.75" y="574.75" font-size="9.2" text-anchor="start" fill="#231f20" stroke="#231f20" stroke-width="0.0" textLength="33.50" lengthAdjust="spacingAndGlyphs" >12 weeks</text>
<text x="106.50" y="574.75" font-size="9.2" text-anchor="start" fill="#231f20" stroke="#231f20" stroke-width="0.0" textLength="35.50" lengthAdjust="spacingAndGlyphs" >20 weeks</text>
<text x="158.20" y="574.75" font-size="9.2" text-anchor="start" fill="#231f20" stroke="#231f20" stroke-width="0.0" textLength="35.20" lengthAdjust="spacingAndGlyphs" >30 weeks</text>
<text x="218.80" y="574.75" font-size="9.2" text-anchor="start" fill="#231f20" stroke="#231f20" stroke-width="0.0" textLength="23.00" lengthAdjust="spacingAndGlyphs" >1 year</text>
<text x="116.00" y="430.70" font-size="8.8" text-anchor="start" fill="#231f20" stroke="#231f20" stroke-width="0.0" textLength="25.25" lengthAdjust="spacingAndGlyphs" >p=0.03</text>
<line x1="109.00" y1="436.30" x2="148.50" y2="436.30" stroke="#4a4a4a" stroke-width="1.2" />
<text x="157.40" y="430.90" font-size="8.8" text-anchor="start" fill="#231f20" stroke="#231f20" stroke-width="0.0" textLength="34.90" lengthAdjust="spacingAndGlyphs" >p=0.0002</text>
<line x1="157.40" y1="436.10" x2="196.50" y2="436.10" stroke="#4a4a4a" stroke-width="1.2" />
<text x="211.30" y="430.90" font-size="8.8" text-anchor="start" fill="#231f20" stroke="#231f20" stroke-width="0.0" textLength="35.00" lengthAdjust="spacingAndGlyphs" >p=0.0003</text>
<line x1="210.30" y1="436.10" x2="249.00" y2="436.10" stroke="#4a4a4a" stroke-width="1.2" />
<line x1="55.20" y1="554.40" x2="73.00" y2="554.40" stroke="#2a2a2a" stroke-width="1.0" />
<line x1="81.00" y1="553.50" x2="99.00" y2="553.50" stroke="#2a2a2a" stroke-width="1.0" />
<line x1="107.10" y1="553.90" x2="124.50" y2="553.90" stroke="#2a2a2a" stroke-width="1.0" />
<line x1="132.30" y1="550.30" x2="149.60" y2="550.30" stroke="#2a2a2a" stroke-width="1.0" />
<line x1="158.20" y1="550.10" x2="175.50" y2="550.10" stroke="#2a2a2a" stroke-width="1.0" />
<line x1="183.80" y1="545.40" x2="200.60" y2="545.40" stroke="#2a2a2a" stroke-width="1.0" />
<line x1="209.70" y1="552.00" x2="227.00" y2="552.00" stroke="#2a2a2a" stroke-width="1.0" />
<line x1="234.80" y1="544.60" x2="252.60" y2="544.60" stroke="#2a2a2a" stroke-width="1.0" />
<circle cx="70.70" cy="550.20" r="1.8" fill="none" stroke="#6482c6" stroke-width="1.05"/>
<circle cx="70.39" cy="551.84" r="1.8" fill="none" stroke="#6482c6" stroke-width="1.05"/>
<circle cx="69.50" cy="553.32" r="1.8" fill="none" stroke="#6482c6" stroke-width="1.05"/>
<circle cx="68.10" cy="554.49" r="1.8" fill="none" stroke="#6482c6" stroke-width="1.05"/>
<circle cx="66.35" cy="555.24" r="1.8" fill="none" stroke="#6482c6" stroke-width="1.05"/>
<circle cx="64.40" cy="555.50" r="1.8" fill="none" stroke="#6482c6" stroke-width="1.05"/>
<circle cx="62.45" cy="555.24" r="1.8" fill="none" stroke="#6482c6" stroke-width="1.05"/>
<circle cx="60.70" cy="554.49" r="1.8" fill="none" stroke="#6482c6" stroke-width="1.05"/>
<circle cx="59.30" cy="553.32" r="1.8" fill="none" stroke="#6482c6" stroke-width="1.05"/>
<circle cx="58.41" cy="551.84" r="1.8" fill="none" stroke="#6482c6" stroke-width="1.05"/>
<circle cx="58.10" cy="550.20" r="1.8" fill="none" stroke="#6482c6" stroke-width="1.05"/>
<circle cx="68.50" cy="553.44" r="1.8" fill="none" stroke="#6482c6" stroke-width="1.05"/>
<circle cx="66.71" cy="554.88" r="1.8" fill="none" stroke="#6482c6" stroke-width="1.05"/>
<circle cx="64.40" cy="555.40" r="1.8" fill="none" stroke="#6482c6" stroke-width="1.05"/>
<circle cx="62.09" cy="554.88" r="1.8" fill="none" stroke="#6482c6" stroke-width="1.05"/>
<circle cx="60.30" cy="553.44" r="1.8" fill="none" stroke="#6482c6" stroke-width="1.05"/>
<circle cx="109.80" cy="546.50" r="1.8" fill="none" stroke="#6482c6" stroke-width="1.05"/>
<circle cx="121.30" cy="545.60" r="1.8" fill="none" stroke="#6482c6" stroke-width="1.05"/>
<circle cx="115.30" cy="547.90" r="1.8" fill="none" stroke="#6482c6" stroke-width="1.05"/>
<circle cx="121.30" cy="548.60" r="1.8" fill="none" stroke="#6482c6" stroke-width="1.05"/>
<circle cx="121.02" cy="550.24" r="1.8" fill="none" stroke="#6482c6" stroke-width="1.05"/>
<circle cx="120.19" cy="551.72" r="1.8" fill="none" stroke="#6482c6" stroke-width="1.05"/>
<circle cx="118.91" cy="552.89" r="1.8" fill="none" stroke="#6482c6" stroke-width="1.05"/>
<circle cx="117.29" cy="553.64" r="1.8" fill="none" stroke="#6482c6" stroke-width="1.05"/>
<circle cx="115.50" cy="553.90" r="1.8" fill="none" stroke="#6482c6" stroke-width="1.05"/>
<circle cx="113.71" cy="553.64" r="1.8" fill="none" stroke="#6482c6" stroke-width="1.05"/>
<circle cx="112.09" cy="552.89" r="1.8" fill="none" stroke="#6482c6" stroke-width="1.05"/>
<circle cx="110.81" cy="551.72" r="1.8" fill="none" stroke="#6482c6" stroke-width="1.05"/>
<circle cx="109.98" cy="550.24" r="1.8" fill="none" stroke="#6482c6" stroke-width="1.05"/>
<circle cx="109.70" cy="548.60" r="1.8" fill="none" stroke="#6482c6" stroke-width="1.05"/>
<circle cx="119.04" cy="552.86" r="1.8" fill="none" stroke="#6482c6" stroke-width="1.05"/>
<circle cx="115.50" cy="554.30" r="1.8" fill="none" stroke="#6482c6" stroke-width="1.05"/>
<circle cx="111.96" cy="552.86" r="1.8" fill="none" stroke="#6482c6" stroke-width="1.05"/>
<circle cx="160.90" cy="547.90" r="1.8" fill="none" stroke="#6482c6" stroke-width="1.05"/>
<circle cx="172.60" cy="547.90" r="1.8" fill="none" stroke="#6482c6" stroke-width="1.05"/>
<circle cx="166.80" cy="548.70" r="1.8" fill="none" stroke="#6482c6" stroke-width="1.05"/>
<circle cx="162.20" cy="550.20" r="1.8" fill="none" stroke="#6482c6" stroke-width="1.05"/>
<circle cx="163.60" cy="552.20" r="1.8" fill="none" stroke="#6482c6" stroke-width="1.05"/>
<circle cx="165.20" cy="554.00" r="1.8" fill="none" stroke="#6482c6" stroke-width="1.05"/>
<circle cx="166.80" cy="555.00" r="1.8" fill="none" stroke="#6482c6" stroke-width="1.05"/>
<circle cx="168.40" cy="554.00" r="1.8" fill="none" stroke="#6482c6" stroke-width="1.05"/>
<circle cx="170.00" cy="552.20" r="1.8" fill="none" stroke="#6482c6" stroke-width="1.05"/>
<circle cx="171.40" cy="550.20" r="1.8" fill="none" stroke="#6482c6" stroke-width="1.05"/>
<circle cx="161.00" cy="549.30" r="1.8" fill="none" stroke="#6482c6" stroke-width="1.05"/>
<circle cx="172.60" cy="549.30" r="1.8" fill="none" stroke="#6482c6" stroke-width="1.05"/>
<circle cx="164.30" cy="550.30" r="1.8" fill="none" stroke="#6482c6" stroke-width="1.05"/>
<circle cx="169.30" cy="550.30" r="1.8" fill="none" stroke="#6482c6" stroke-width="1.05"/>
<circle cx="166.80" cy="552.60" r="1.8" fill="none" stroke="#6482c6" stroke-width="1.05"/>
<circle cx="218.30" cy="547.60" r="1.8" fill="none" stroke="#6482c6" stroke-width="1.05"/>
<circle cx="214.60" cy="550.40" r="1.8" fill="none" stroke="#6482c6" stroke-width="1.05"/>
<circle cx="218.30" cy="550.20" r="1.8" fill="none" stroke="#6482c6" stroke-width="1.05"/>
<circle cx="222.00" cy="550.40" r="1.8" fill="none" stroke="#6482c6" stroke-width="1.05"/>
<circle cx="211.90" cy="552.60" r="1.8" fill="none" stroke="#6482c6" stroke-width="1.05"/>
<circle cx="214.50" cy="552.40" r="1.8" fill="none" stroke="#6482c6" stroke-width="1.05"/>
<circle cx="217.00" cy="552.30" r="1.8" fill="none" stroke="#6482c6" stroke-width="1.05"/>
<circle cx="219.60" cy="552.30" r="1.8" fill="none" stroke="#6482c6" stroke-width="1.05"/>
<circle cx="222.20" cy="552.40" r="1.8" fill="none" stroke="#6482c6" stroke-width="1.05"/>
<circle cx="224.80" cy="552.60" r="1.8" fill="none" stroke="#6482c6" stroke-width="1.05"/>
<circle cx="213.60" cy="554.60" r="1.8" fill="none" stroke="#6482c6" stroke-width="1.05"/>
<circle cx="216.20" cy="554.90" r="1.8" fill="none" stroke="#6482c6" stroke-width="1.05"/>
<circle cx="218.80" cy="555.00" r="1.8" fill="none" stroke="#6482c6" stroke-width="1.05"/>
<circle cx="221.40" cy="554.90" r="1.8" fill="none" stroke="#6482c6" stroke-width="1.05"/>
<circle cx="224.00" cy="554.60" r="1.8" fill="none" stroke="#6482c6" stroke-width="1.05"/>
<circle cx="218.30" cy="556.00" r="1.8" fill="none" stroke="#6482c6" stroke-width="1.05"/>
<rect x="82.10" y="544.40" width="4.2" height="4.2" fill="#a5533f"/>
<rect x="93.65" y="542.50" width="4.2" height="4.2" fill="#a5533f"/>
<rect x="87.90" y="546.40" width="4.2" height="4.2" fill="#a5533f"/>
<rect x="83.40" y="548.70" width="4.2" height="4.2" fill="#a5533f"/>
<rect x="85.90" y="548.70" width="4.2" height="4.2" fill="#a5533f"/>
<rect x="89.90" y="548.70" width="4.2" height="4.2" fill="#a5533f"/>
<rect x="92.40" y="548.70" width="4.2" height="4.2" fill="#a5533f"/>
<rect x="81.70" y="550.90" width="4.2" height="4.2" fill="#a5533f"/>
<rect x="84.40" y="550.90" width="4.2" height="4.2" fill="#a5533f"/>
<rect x="86.90" y="551.40" width="4.2" height="4.2" fill="#a5533f"/>
<rect x="88.90" y="551.40" width="4.2" height="4.2" fill="#a5533f"/>
<rect x="91.40" y="550.90" width="4.2" height="4.2" fill="#a5533f"/>
<rect x="94.20" y="550.90" width="4.2" height="4.2" fill="#a5533f"/>
<rect x="83.90" y="552.90" width="4.2" height="4.2" fill="#a5533f"/>
<rect x="86.90" y="553.20" width="4.2" height="4.2" fill="#a5533f"/>
<rect x="89.90" y="553.20" width="4.2" height="4.2" fill="#a5533f"/>
<rect x="92.90" y="552.90" width="4.2" height="4.2" fill="#a5533f"/>
<rect x="139.00" y="477.90" width="4.2" height="4.2" fill="#a5533f"/>
<rect x="136.30" y="519.00" width="4.2" height="4.2" fill="#a5533f"/>
<rect x="142.20" y="524.30" width="4.2" height="4.2" fill="#a5533f"/>
<rect x="133.80" y="532.40" width="4.2" height="4.2" fill="#a5533f"/>
<rect x="144.50" y="532.70" width="4.2" height="4.2" fill="#a5533f"/>
<rect x="139.30" y="538.60" width="4.2" height="4.2" fill="#a5533f"/>
<rect x="136.00" y="545.50" width="4.2" height="4.2" fill="#a5533f"/>
<rect x="145.10" y="545.50" width="4.2" height="4.2" fill="#a5533f"/>
<rect x="133.70" y="550.70" width="4.2" height="4.2" fill="#a5533f"/>
<rect x="136.40" y="550.70" width="4.2" height="4.2" fill="#a5533f"/>
<rect x="141.50" y="550.70" width="4.2" height="4.2" fill="#a5533f"/>
<rect x="144.10" y="550.70" width="4.2" height="4.2" fill="#a5533f"/>
<rect x="133.70" y="552.40" width="4.2" height="4.2" fill="#a5533f"/>
<rect x="136.40" y="552.40" width="4.2" height="4.2" fill="#a5533f"/>
<rect x="138.90" y="552.40" width="4.2" height="4.2" fill="#a5533f"/>
<rect x="141.50" y="552.40" width="4.2" height="4.2" fill="#a5533f"/>
<rect x="144.10" y="552.40" width="4.2" height="4.2" fill="#a5533f"/>
<rect x="190.60" y="487.60" width="4.2" height="4.2" fill="#a5533f"/>
<rect x="187.40" y="528.90" width="4.2" height="4.2" fill="#a5533f"/>
<rect x="193.20" y="529.60" width="4.2" height="4.2" fill="#a5533f"/>
<rect x="184.60" y="533.70" width="4.2" height="4.2" fill="#a5533f"/>
<rect x="190.80" y="536.80" width="4.2" height="4.2" fill="#a5533f"/>
<rect x="196.30" y="535.40" width="4.2" height="4.2" fill="#a5533f"/>
<rect x="196.60" y="540.70" width="4.2" height="4.2" fill="#a5533f"/>
<rect x="196.90" y="541.70" width="4.2" height="4.2" fill="#a5533f"/>
<rect x="196.25" y="543.13" width="4.2" height="4.2" fill="#a5533f"/>
<rect x="194.42" y="544.28" width="4.2" height="4.2" fill="#a5533f"/>
<rect x="191.77" y="544.92" width="4.2" height="4.2" fill="#a5533f"/>
<rect x="188.83" y="544.92" width="4.2" height="4.2" fill="#a5533f"/>
<rect x="186.18" y="544.28" width="4.2" height="4.2" fill="#a5533f"/>
<rect x="184.35" y="543.13" width="4.2" height="4.2" fill="#a5533f"/>
<rect x="183.70" y="541.70" width="4.2" height="4.2" fill="#a5533f"/>
<rect x="195.00" y="542.92" width="4.2" height="4.2" fill="#a5533f"/>
<rect x="193.17" y="544.07" width="4.2" height="4.2" fill="#a5533f"/>
<rect x="190.30" y="544.50" width="4.2" height="4.2" fill="#a5533f"/>
<rect x="187.43" y="544.07" width="4.2" height="4.2" fill="#a5533f"/>
<rect x="185.60" y="542.92" width="4.2" height="4.2" fill="#a5533f"/>
<rect x="184.60" y="550.80" width="4.2" height="4.2" fill="#a5533f"/>
<rect x="189.90" y="551.70" width="4.2" height="4.2" fill="#a5533f"/>
<rect x="195.60" y="551.30" width="4.2" height="4.2" fill="#a5533f"/>
<rect x="238.60" y="453.70" width="4.2" height="4.2" fill="#a5533f"/>
<rect x="244.40" y="458.90" width="4.2" height="4.2" fill="#a5533f"/>
<rect x="241.80" y="498.90" width="4.2" height="4.2" fill="#a5533f"/>
<rect x="238.70" y="519.80" width="4.2" height="4.2" fill="#a5533f"/>
<rect x="247.60" y="522.50" width="4.2" height="4.2" fill="#a5533f"/>
<rect x="244.70" y="525.90" width="4.2" height="4.2" fill="#a5533f"/>
<rect x="235.60" y="529.70" width="4.2" height="4.2" fill="#a5533f"/>
<rect x="239.00" y="532.90" width="4.2" height="4.2" fill="#a5533f"/>
<rect x="247.10" y="537.40" width="4.2" height="4.2" fill="#a5533f"/>
<rect x="235.60" y="539.30" width="4.2" height="4.2" fill="#a5533f"/>
<rect x="239.00" y="541.70" width="4.2" height="4.2" fill="#a5533f"/>
<rect x="244.20" y="542.20" width="4.2" height="4.2" fill="#a5533f"/>
<rect x="236.90" y="543.90" width="4.2" height="4.2" fill="#a5533f"/>
<rect x="239.90" y="545.90" width="4.2" height="4.2" fill="#a5533f"/>
<rect x="243.40" y="545.90" width="4.2" height="4.2" fill="#a5533f"/>
<rect x="246.90" y="543.90" width="4.2" height="4.2" fill="#a5533f"/>
<rect x="241.80" y="547.90" width="4.2" height="4.2" fill="#a5533f"/>
<rect x="235.90" y="550.40" width="4.2" height="4.2" fill="#a5533f"/>
<rect x="238.90" y="549.40" width="4.2" height="4.2" fill="#a5533f"/>
<rect x="244.40" y="549.40" width="4.2" height="4.2" fill="#a5533f"/>
<rect x="247.90" y="550.40" width="4.2" height="4.2" fill="#a5533f"/>
<rect x="237.40" y="552.90" width="4.2" height="4.2" fill="#a5533f"/>
<rect x="241.80" y="551.40" width="4.2" height="4.2" fill="#a5533f"/>
<rect x="245.90" y="552.90" width="4.2" height="4.2" fill="#a5533f"/>
<rect x="241.40" y="557.30" width="4.2" height="4.2" fill="#a5533f"/>
<line x1="52.2" y1="548.2" x2="257" y2="548.2" stroke="#151515" stroke-width="1.15" stroke-dasharray="1.2,1.15"/>
<line x1="309.10" y1="422.60" x2="309.10" y2="562.20" stroke="#1e1e1e" stroke-width="1.25" />
<line x1="308.50" y1="561.60" x2="452.00" y2="561.60" stroke="#1e1e1e" stroke-width="1.25" />
<line x1="305.90" y1="561.60" x2="309.10" y2="561.60" stroke="#1e1e1e" stroke-width="1.0" />
<line x1="305.90" y1="494.05" x2="309.10" y2="494.05" stroke="#1e1e1e" stroke-width="1.0" />
<line x1="305.90" y1="426.50" x2="309.10" y2="426.50" stroke="#1e1e1e" stroke-width="1.0" />
<line x1="309.10" y1="561.60" x2="309.10" y2="564.20" stroke="#1e1e1e" stroke-width="1.0" />
<line x1="355.80" y1="561.60" x2="355.80" y2="564.20" stroke="#1e1e1e" stroke-width="1.0" />
<line x1="402.50" y1="561.60" x2="402.50" y2="564.20" stroke="#1e1e1e" stroke-width="1.0" />
<line x1="449.20" y1="561.60" x2="449.20" y2="564.20" stroke="#1e1e1e" stroke-width="1.0" />
<text x="302.50" y="428.70" font-size="9.2" text-anchor="end" fill="#231f20" stroke="#231f20" stroke-width="0.0" textLength="13.40" lengthAdjust="spacingAndGlyphs" >100</text>
<text x="302.50" y="496.40" font-size="9.2" text-anchor="end" fill="#231f20" stroke="#231f20" stroke-width="0.0" textLength="9.00" lengthAdjust="spacingAndGlyphs" >50</text>
<text x="302.30" y="564.10" font-size="9.2" text-anchor="end" fill="#231f20" stroke="#231f20" stroke-width="0.0" textLength="4.70" lengthAdjust="spacingAndGlyphs" >0</text>
<text x="309.30" y="575.80" font-size="9.2" text-anchor="middle" fill="#231f20" stroke="#231f20" stroke-width="0.0" textLength="4.70" lengthAdjust="spacingAndGlyphs" >0</text>
<text x="355.90" y="575.80" font-size="9.2" text-anchor="middle" fill="#231f20" stroke="#231f20" stroke-width="0.0" textLength="9.30" lengthAdjust="spacingAndGlyphs" >20</text>
<text x="402.10" y="575.80" font-size="9.2" text-anchor="middle" fill="#231f20" stroke="#231f20" stroke-width="0.0" textLength="9.30" lengthAdjust="spacingAndGlyphs" >40</text>
<text x="448.50" y="575.80" font-size="9.2" text-anchor="middle" fill="#231f20" stroke="#231f20" stroke-width="0.0" textLength="9.30" lengthAdjust="spacingAndGlyphs" >60</text>
<text x="348.10" y="588.20" font-size="9.6" text-anchor="start" fill="#231f20" stroke="#231f20" stroke-width="0.0" textLength="65.30" lengthAdjust="spacingAndGlyphs" >Weeks elapsed</text>
<text transform="translate(281.3,491.9) rotate(-90)" font-size="10.4" text-anchor="middle" stroke="#231f20" stroke-width="0" fill="#231f20" textLength="125.5" lengthAdjust="spacingAndGlyphs">% developing splenomegaly</text>
<line x1="321.4" y1="431.1" x2="341" y2="431.1" stroke="#5577c4" stroke-width="1.4" stroke-dasharray="4.2,3.2"/>
<text x="348.50" y="433.70" font-size="9.0" text-anchor="start" fill="#231f20" stroke="#231f20" stroke-width="0.0" textLength="11.30" lengthAdjust="spacingAndGlyphs" >WT</text>
<line x1="321.80" y1="443.70" x2="343.70" y2="443.70" stroke="#b0503c" stroke-width="1.4" />
<text x="351.60" y="447.50" font-size="9.0" text-anchor="start" fill="#231f20" stroke="#231f20" stroke-width="0.0" textLength="20.00" lengthAdjust="spacingAndGlyphs" >CD11c</text>
<text x="371.90" y="444.20" font-size="5.6" fill="#555" textLength="20.80" lengthAdjust="spacingAndGlyphs">&#916;MHCII</text>
<polyline points="308.8,561.0 336.8,561.0 336.8,557.2 355.5,557.2 355.5,540.4 379.5,540.4 379.5,504.6 430.8,504.6 430.8,460" fill="none" stroke="#b0503c" stroke-width="1.3"/>
<polyline points="308.8,561.0 355.5,561.0 355.5,556.7 378.8,556.7 378.8,553.6 430.6,553.6 430.6,548.6" fill="none" stroke="#5577c4" stroke-width="1.4" stroke-dasharray="4.2,3.2"/>
<polyline points="434,504.4 437.9,504.4 437.9,551 434,551" fill="none" stroke="#3a3a3a" stroke-width="1.1"/>
<text x="445.30" y="532.30" font-size="8.7" text-anchor="start" fill="#231f20" stroke="#231f20" stroke-width="0.0" textLength="34.10" lengthAdjust="spacingAndGlyphs" >p&lt;0.0001</text>
<polygon points="51.5,177.4 88.0,177.2 93.0,176.5 98.0,175.2 103.0,176.5 108.0,175.5 113.0,173.2 118.0,175.5 122.0,174.5 126.0,175.5 128.3,175.2 134.6,167.3 139.8,157.0 145.0,142.4 147.0,117.4 149.1,109.0 151.2,82.0 153.3,71.6 155.8,72.0 159.1,60.8 161.6,70.6 164.7,59.6 167.4,71.6 169.9,88.3 173.0,111.2 175.7,117.4 178.2,134.0 182.4,156.9 190.7,176.7 203.0,177.4" fill="#b8bfdc" stroke="#6f88c6" stroke-width="0.9" stroke-linejoin="round"/>
<polygon points="51.5,177.4 66.0,177.2 68.4,176.5 71.6,173.3 73.8,164.6 74.9,147.3 76.4,121.4 78.6,88.9 80.7,58.7 82.4,54.8 84.6,63.0 86.8,76.0 89.4,97.6 92.2,110.6 95.4,127.9 99.8,145.2 103.0,149.5 106.2,156.0 109.5,160.3 112.7,169.0 117.1,174.4 122.5,176.5 140.0,177.0 203.0,177.4" fill="#d09f88" stroke="#b15a44" stroke-width="0.9" stroke-linejoin="round"/>
<polyline points="88.0,177.2 93.0,176.5 98.0,175.2 103.0,176.5 108.0,175.5 113.0,173.2 118.0,175.5 122.0,174.5 126.0,175.5 128.3,175.2" fill="none" stroke="#6f88c6" stroke-width="0.9" stroke-opacity="0.8"/>
<polyline points="51.5,177.9 51.5,26.4 203.8,26.4 203.8,177.9" fill="none" stroke="#1e1e1e" stroke-width="1.3"/>
<line x1="51.50" y1="177.60" x2="203.80" y2="177.60" stroke="#9a6f78" stroke-width="0.9" />
<line x1="49.30" y1="33.30" x2="51.50" y2="33.30" stroke="#1e1e1e" stroke-width="0.9" />
<line x1="50.20" y1="40.50" x2="51.50" y2="40.50" stroke="#1e1e1e" stroke-width="0.9" />
<line x1="50.20" y1="47.70" x2="51.50" y2="47.70" stroke="#1e1e1e" stroke-width="0.9" />
<line x1="50.20" y1="54.90" x2="51.50" y2="54.90" stroke="#1e1e1e" stroke-width="0.9" />
<line x1="49.30" y1="62.10" x2="51.50" y2="62.10" stroke="#1e1e1e" stroke-width="0.9" />
<line x1="50.20" y1="69.30" x2="51.50" y2="69.30" stroke="#1e1e1e" stroke-width="0.9" />
<line x1="50.20" y1="76.50" x2="51.50" y2="76.50" stroke="#1e1e1e" stroke-width="0.9" />
<line x1="50.20" y1="83.70" x2="51.50" y2="83.70" stroke="#1e1e1e" stroke-width="0.9" />
<line x1="49.30" y1="90.90" x2="51.50" y2="90.90" stroke="#1e1e1e" stroke-width="0.9" />
<line x1="50.20" y1="98.10" x2="51.50" y2="98.10" stroke="#1e1e1e" stroke-width="0.9" />
<line x1="50.20" y1="105.30" x2="51.50" y2="105.30" stroke="#1e1e1e" stroke-width="0.9" />
<line x1="50.20" y1="112.50" x2="51.50" y2="112.50" stroke="#1e1e1e" stroke-width="0.9" />
<line x1="49.30" y1="119.70" x2="51.50" y2="119.70" stroke="#1e1e1e" stroke-width="0.9" />
<line x1="50.20" y1="126.90" x2="51.50" y2="126.90" stroke="#1e1e1e" stroke-width="0.9" />
<line x1="50.20" y1="134.10" x2="51.50" y2="134.10" stroke="#1e1e1e" stroke-width="0.9" />
<line x1="50.20" y1="141.30" x2="51.50" y2="141.30" stroke="#1e1e1e" stroke-width="0.9" />
<line x1="49.30" y1="148.50" x2="51.50" y2="148.50" stroke="#1e1e1e" stroke-width="0.9" />
<line x1="50.20" y1="155.70" x2="51.50" y2="155.70" stroke="#1e1e1e" stroke-width="0.9" />
<line x1="50.20" y1="162.90" x2="51.50" y2="162.90" stroke="#1e1e1e" stroke-width="0.9" />
<line x1="50.20" y1="170.10" x2="51.50" y2="170.10" stroke="#1e1e1e" stroke-width="0.9" />
<line x1="49.30" y1="177.30" x2="51.50" y2="177.30" stroke="#1e1e1e" stroke-width="0.9" />
<line x1="59.10" y1="177.90" x2="59.10" y2="181.50" stroke="#1e1e1e" stroke-width="0.9" />
<line x1="84.00" y1="177.90" x2="84.00" y2="181.50" stroke="#1e1e1e" stroke-width="0.9" />
<line x1="103.60" y1="177.90" x2="103.60" y2="181.50" stroke="#1e1e1e" stroke-width="0.9" />
<line x1="141.30" y1="177.90" x2="141.30" y2="181.50" stroke="#1e1e1e" stroke-width="0.9" />
<line x1="173.00" y1="177.90" x2="173.00" y2="181.50" stroke="#1e1e1e" stroke-width="0.9" />
<line x1="60.80" y1="177.90" x2="60.80" y2="180.00" stroke="#333" stroke-width="0.55" />
<line x1="62.65" y1="177.90" x2="62.65" y2="180.00" stroke="#333" stroke-width="0.55" />
<line x1="64.50" y1="177.90" x2="64.50" y2="180.00" stroke="#333" stroke-width="0.55" />
<line x1="66.35" y1="177.90" x2="66.35" y2="180.00" stroke="#333" stroke-width="0.55" />
<line x1="68.20" y1="177.90" x2="68.20" y2="180.00" stroke="#333" stroke-width="0.55" />
<line x1="70.05" y1="177.90" x2="70.05" y2="180.00" stroke="#333" stroke-width="0.55" />
<line x1="71.90" y1="177.90" x2="71.90" y2="180.00" stroke="#333" stroke-width="0.55" />
<line x1="73.75" y1="177.90" x2="73.75" y2="180.00" stroke="#333" stroke-width="0.55" />
<line x1="75.60" y1="177.90" x2="75.60" y2="180.00" stroke="#333" stroke-width="0.55" />
<line x1="77.45" y1="177.90" x2="77.45" y2="180.00" stroke="#333" stroke-width="0.55" />
<line x1="79.30" y1="177.90" x2="79.30" y2="180.00" stroke="#333" stroke-width="0.55" />
<line x1="81.15" y1="177.90" x2="81.15" y2="180.00" stroke="#333" stroke-width="0.55" />
<line x1="83.00" y1="177.90" x2="83.00" y2="180.00" stroke="#333" stroke-width="0.55" />
<line x1="86.50" y1="177.90" x2="86.50" y2="180.00" stroke="#333" stroke-width="0.55" />
<line x1="88.60" y1="177.90" x2="88.60" y2="180.00" stroke="#333" stroke-width="0.55" />
<line x1="90.70" y1="177.90" x2="90.70" y2="180.00" stroke="#333" stroke-width="0.55" />
<line x1="92.80" y1="177.90" x2="92.80" y2="180.00" stroke="#333" stroke-width="0.55" />
<line x1="94.90" y1="177.90" x2="94.90" y2="180.00" stroke="#333" stroke-width="0.55" />
<line x1="97.00" y1="177.90" x2="97.00" y2="180.00" stroke="#333" stroke-width="0.55" />
<line x1="99.10" y1="177.90" x2="99.10" y2="180.00" stroke="#333" stroke-width="0.55" />
<line x1="115.90" y1="177.90" x2="115.90" y2="180.00" stroke="#333" stroke-width="0.55" />
<line x1="118.75" y1="177.90" x2="118.75" y2="180.00" stroke="#333" stroke-width="0.55" />
<line x1="122.60" y1="177.90" x2="122.60" y2="180.00" stroke="#333" stroke-width="0.55" />
<line x1="125.00" y1="177.90" x2="125.00" y2="180.00" stroke="#333" stroke-width="0.55" />
<line x1="127.40" y1="177.90" x2="127.40" y2="180.00" stroke="#333" stroke-width="0.55" />
<line x1="128.80" y1="177.90" x2="128.80" y2="180.00" stroke="#333" stroke-width="0.55" />
<line x1="130.30" y1="177.90" x2="130.30" y2="180.00" stroke="#333" stroke-width="0.55" />
<line x1="131.70" y1="177.90" x2="131.70" y2="180.00" stroke="#333" stroke-width="0.55" />
<line x1="133.60" y1="177.90" x2="133.60" y2="180.00" stroke="#333" stroke-width="0.55" />
<line x1="135.20" y1="177.90" x2="135.20" y2="180.00" stroke="#333" stroke-width="0.55" />
<line x1="136.90" y1="177.90" x2="136.90" y2="180.00" stroke="#333" stroke-width="0.55" />
<line x1="138.50" y1="177.90" x2="138.50" y2="180.00" stroke="#333" stroke-width="0.55" />
<line x1="151.60" y1="177.90" x2="151.60" y2="180.00" stroke="#333" stroke-width="0.55" />
<line x1="157.50" y1="177.90" x2="157.50" y2="180.00" stroke="#333" stroke-width="0.55" />
<line x1="161.30" y1="177.90" x2="161.30" y2="180.00" stroke="#333" stroke-width="0.55" />
<line x1="164.00" y1="177.90" x2="164.00" y2="180.00" stroke="#333" stroke-width="0.55" />
<line x1="166.00" y1="177.90" x2="166.00" y2="180.00" stroke="#333" stroke-width="0.55" />
<line x1="167.50" y1="177.90" x2="167.50" y2="180.00" stroke="#333" stroke-width="0.55" />
<line x1="169.00" y1="177.90" x2="169.00" y2="180.00" stroke="#333" stroke-width="0.55" />
<line x1="170.50" y1="177.90" x2="170.50" y2="180.00" stroke="#333" stroke-width="0.55" />
<line x1="183.40" y1="177.90" x2="183.40" y2="180.00" stroke="#333" stroke-width="0.55" />
<line x1="189.30" y1="177.90" x2="189.30" y2="180.00" stroke="#333" stroke-width="0.55" />
<line x1="192.00" y1="177.90" x2="192.00" y2="180.00" stroke="#333" stroke-width="0.55" />
<line x1="195.20" y1="177.90" x2="195.20" y2="180.00" stroke="#333" stroke-width="0.55" />
<line x1="197.00" y1="177.90" x2="197.00" y2="180.00" stroke="#333" stroke-width="0.55" />
<line x1="198.70" y1="177.90" x2="198.70" y2="180.00" stroke="#333" stroke-width="0.55" />
<line x1="200.30" y1="177.90" x2="200.30" y2="180.00" stroke="#333" stroke-width="0.55" />
<line x1="201.70" y1="177.90" x2="201.70" y2="180.00" stroke="#333" stroke-width="0.55" />
<line x1="51.20" y1="191.10" x2="195.00" y2="191.10" stroke="#1e1e1e" stroke-width="1.3" />
<polygon points="202.3,191.1 193.3,187.3 195.2,191.1 193.3,195" fill="#1e1e1e"/>
<text x="48.60" y="203.10" font-size="9.6" text-anchor="start" fill="#231f20" stroke="#231f20" stroke-width="0.0" textLength="26.30" lengthAdjust="spacingAndGlyphs" >MHCII</text>
<circle cx="100.40" cy="33.50" r="3.7" fill="#b8bfdc" stroke="#6f88c6" stroke-width="1.0"/>
<text x="109.75" y="36.50" font-size="9.0" text-anchor="start" fill="#231f20" stroke="#231f20" stroke-width="0.0" textLength="11.75" lengthAdjust="spacingAndGlyphs" >WT</text>
<circle cx="100.40" cy="50.00" r="3.7" fill="#d09f88" stroke="#b15a44" stroke-width="1.0"/>
<text x="112.90" y="53.50" font-size="9.0" text-anchor="start" fill="#231f20" stroke="#231f20" stroke-width="0.0" textLength="22.70" lengthAdjust="spacingAndGlyphs" >CD11c</text>
<text x="135.80" y="50.00" font-size="5.6" fill="#555" textLength="18.00" lengthAdjust="spacingAndGlyphs">&#916;MHCII</text>
</svg>
</body></html>
